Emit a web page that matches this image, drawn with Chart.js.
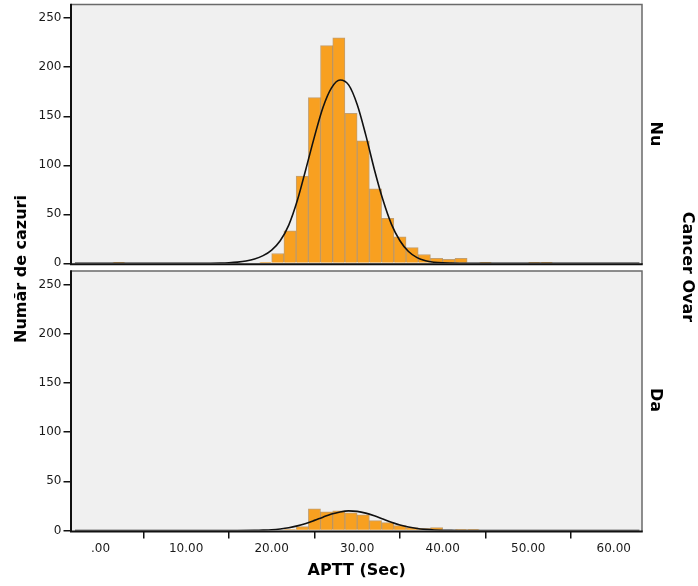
<!DOCTYPE html>
<html><head><meta charset="utf-8">
<script src="https://cdn.jsdelivr.net/npm/chart.js@4/dist/chart.umd.min.js"></script>
<style>
html,body{margin:0;padding:0;background:#fff;}
#wrap{position:relative;width:698px;height:586px;overflow:hidden;font-family:"DejaVu Sans",sans-serif;}
canvas{position:absolute;left:0;}
.lbl{position:absolute;font-family:"DejaVu Sans",sans-serif;font-weight:bold;font-size:16px;color:#000;white-space:nowrap;line-height:1;}
</style></head><body>
<div id="wrap">
<canvas id="cTop" width="698" height="290" style="top:0px"></canvas>
<canvas id="cBot" width="698" height="320" style="top:266px"></canvas>
<div class="lbl" id="yTitle" style="left:21px;top:269px;transform:translate(-50%,-50%) rotate(-90deg);">Număr de cazuri</div>
<div class="lbl" id="pNu" style="left:656px;top:134px;transform:translate(-50%,-50%) rotate(90deg);">Nu</div>
<div class="lbl" id="pDa" style="left:656px;top:400px;transform:translate(-50%,-50%) rotate(90deg);">Da</div>
<div class="lbl" id="pTitle" style="left:688px;top:267px;transform:translate(-50%,-50%) rotate(90deg);">Cancer Ovar</div>
</div>
<script>
// ---- data ----
const binWidth = 1.4286;
const binLower = [1.43, 2.86, 4.29, 5.71, 7.14, 8.57, 10.00, 11.43, 12.86, 14.29, 15.71, 17.14,
  18.57, 20.00, 21.43, 22.86, 24.29, 25.71, 27.14, 28.57, 30.00, 31.43, 32.86, 34.29,
  35.71, 37.14, 38.57, 40.00, 41.43, 42.86, 44.29, 45.71, 47.14, 48.57, 50.00, 51.43];
const countsNu = [1, 0, 0, 0, 0, 0, 0, 0, 0, 0, 0, 0,
  1, 10, 33, 89, 169, 222, 230, 153, 125, 76, 46, 27,
  16, 9, 5, 4, 5, 0, 1, 0, 0, 0, 1, 1];
const countsDa = [0, 0, 0, 0, 0, 0, 0, 0, 0, 0, 0, 0,
  0, 0, 1, 4, 22, 19, 20, 18, 16, 10, 8, 5,
  3, 2, 3, 0, 1, 1, 0, 0, 0, 0, 0, 0];
// normal curves
const curveNuX = [-3, 8, 10, 12, 14, 15, 16, 17, 18, 19, 20, 21, 22, 23, 24, 25, 26, 27, 28, 29, 30, 31, 32, 33, 34, 35, 36, 37, 38, 39, 40, 41, 42, 44, 48, 63];
const curveNuY = [0, 0, 0.02, 0.1, 0.3, 0.6, 1.2, 2.3, 4.3, 7.8, 13.5, 23, 39, 64, 96, 129, 159, 179, 187, 182, 162, 131, 96, 65, 40, 23, 12, 5.8, 2.6, 1.1, 0.4, 0.15, 0.05, 0, 0, 0];
const curveDaX = [-3, 14, 16, 18, 19, 20, 21, 22, 23, 24, 25, 26, 27, 28, 29, 30, 31, 32, 33, 34, 35, 36, 37, 38, 39, 40, 41, 42, 44, 63];
const curveDaY = [0, 0, 0.02, 0.17, 0.4, 0.8, 1.6, 2.8, 4.7, 7.2, 10.3, 13.6, 16.7, 18.9, 20, 19.5, 17.7, 14.9, 11.6, 8.4, 5.6, 3.5, 2.0, 1.1, 0.5, 0.24, 0.1, 0.05, 0, 0];
const xTickValues = [0, 10, 20, 30, 40, 50, 60];
const xTickLabels = ['.00', '10.00', '20.00', '30.00', '40.00', '50.00', '60.00'];
const yTickValues = [0, 50, 100, 150, 200, 250];
const xTitle = 'APTT (Sec)';

// ---- styling ----
const X_MIN = -3.4, X_MAX = 63.3, Y_MAX = 264;
const BAR_FILL = 'rgb(248,160,32)';
const BAR_EDGE = 'rgba(165,105,25,0.6)';
const FONT = {family: '"DejaVu Sans", sans-serif', size: 12};

const framePlugin = {
  id: 'frame',
  beforeDraw(chart) {
    const {ctx, chartArea: a} = chart;
    ctx.save();
    ctx.fillStyle = '#f0f0f0';
    ctx.fillRect(a.left, a.top, a.right - a.left, a.bottom - a.top);
    ctx.restore();
  },
  afterDatasetsDraw(chart) {
    const {ctx, chartArea: a} = chart;
    ctx.save();
    ctx.strokeStyle = '#6a6a6a';
    ctx.lineWidth = 1.5;
    ctx.beginPath();
    ctx.moveTo(a.left, a.top); ctx.lineTo(a.right, a.top); ctx.lineTo(a.right, a.bottom + 1);
    ctx.stroke();
    ctx.strokeStyle = '#111';
    ctx.lineWidth = 2;
    ctx.beginPath();
    ctx.moveTo(a.left - 0.5, a.top - 0.75); ctx.lineTo(a.left - 0.5, a.bottom + 1); ctx.lineTo(a.right + 0.75, a.bottom + 1);
    ctx.stroke();
    ctx.restore();
  }
};

function makeChart(canvasId, counts, cx, cy, showX, padding, xHeight) {
  const bars = binLower.map((lo, i) => ({x: lo + binWidth / 2, y: counts[i] > 0 ? counts[i] : null}));
  const curve = cx.map((x, i) => ({x: x, y: cy[i]}));
  return new Chart(document.getElementById(canvasId), {
    type: 'bar',
    data: {
      datasets: [
        {type: 'line', data: curve, borderColor: '#111', borderWidth: 1.6, pointRadius: 0,
         cubicInterpolationMode: 'monotone', fill: false, order: 0},
        {type: 'bar', data: bars, backgroundColor: BAR_FILL, borderColor: BAR_EDGE, borderWidth: 1,
         barPercentage: 1, categoryPercentage: 1, order: 1}
      ]
    },
    options: {
      responsive: false, animation: false, devicePixelRatio: 1,
      layout: {padding: padding},
      plugins: {legend: {display: false}, tooltip: {enabled: false}},
      scales: {
        x: {
          type: 'linear', min: X_MIN, max: X_MAX, offset: false, display: showX,
          afterBuildTicks: s => { s.ticks = xTickValues.map(v => ({value: v})); },
          afterFit: s => { if (showX) { s.height = xHeight; } s.paddingLeft = 0; s.paddingRight = 0; },
          grid: {drawOnChartArea: false, drawTicks: true, tickLength: 8, color: '#111', lineWidth: 1.5},
          border: {display: false},
          ticks: {padding: 3, color: '#1a1a1a', font: FONT, maxRotation: 0, autoSkip: false,
                  callback: (v) => { const i = xTickValues.indexOf(v); return i >= 0 ? xTickLabels[i] : ''; }},
          title: {display: showX, text: xTitle, color: '#000',
                  font: {family: '"DejaVu Sans", sans-serif', size: 16, weight: 'bold'},
                  padding: {top: 0, bottom: 5.4}}
        },
        y: {
          type: 'linear', min: 0, max: Y_MAX, position: 'left',
          afterBuildTicks: s => { s.ticks = yTickValues.map(v => ({value: v})); },
          afterFit: s => { s.width = 71.5; s.paddingTop = 0; s.paddingBottom = 0; },
          grid: {drawOnChartArea: false, drawTicks: true, tickLength: 8, color: '#111', lineWidth: 1.5},
          border: {display: false},
          ticks: {padding: 2, color: '#1a1a1a', font: FONT}
        }
      }
    },
    plugins: [framePlugin]
  });
}

makeChart('cTop', countsNu, curveNuX, curveNuY, false, {left: 0, top: 4.5, right: 56, bottom: 26.7}, 0);
makeChart('cBot', countsDa, curveDaX, curveDaY, true, {left: 0, top: 5, right: 56, bottom: 0}, 55.5);
</script>
</body></html>
